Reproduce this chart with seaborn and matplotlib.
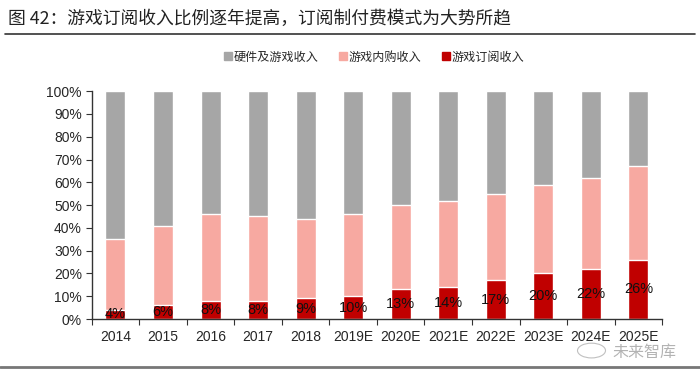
import numpy as np
import pandas as pd
import matplotlib
matplotlib.use("Agg")
import matplotlib.pyplot as plt
import seaborn as sns
from matplotlib.lines import Line2D
from matplotlib.patches import Circle

# data (% share of revenue)
years = ['2014', '2015', '2016', '2017', '2018', '2019E', '2020E',
         '2021E', '2022E', '2023E', '2024E', '2025E']
subs = np.array([4, 6, 8, 8, 9, 10, 13, 14, 17, 20, 22, 26])        # 游戏订阅收入
inapp = np.array([31, 35, 38, 37, 35, 36, 37, 38, 38, 39, 40, 41])  # 游戏内购收入
hardware = np.array([65, 59, 54, 55, 56, 54, 50, 48, 45, 41, 38, 33])  # 硬件及游戏收入
series_names = ['硬件及游戏收入', '游戏内购收入', '游戏订阅收入']
colors = ['#A6A6A6', '#F7A9A1', '#C00000']

sns.set_style("white")
plt.rcParams['font.family'] = ['Liberation Sans', 'Noto Sans CJK SC', 'DejaVu Sans']
cjk = ['Noto Sans CJK SC', 'DejaVu Sans']

df = pd.DataFrame({'year': years, 'subs': subs, 'inapp': inapp, 'hardware': hardware})
df['top_inapp'] = df['subs'] + df['inapp']
df['top_all'] = df['top_inapp'] + df['hardware']

fig = plt.figure(figsize=(7, 3.69), dpi=100)
ax = fig.add_axes([0.131, 0.1355, 0.815, 0.6175])

# layered bars: full stack first, then shorter cumulative stacks on top
for col, c in zip(['top_all', 'top_inapp', 'subs'], colors):
    sns.barplot(data=df, x='year', y=col, color=c, width=0.42,
                saturation=1, ax=ax)

for i, v in enumerate(subs):
    ax.text(i, v / 2, f'{v}%', ha='center', va='center', fontsize=10.5,
            color='#111111')

ax.set_ylim(0, 100)
ax.set_xlim(-0.5, len(years) - 0.5)
ax.set_yticks(range(0, 101, 10))
ax.set_yticklabels([f'{t}%' for t in range(0, 101, 10)], fontsize=10)
ax.set_xlabel('')
ax.set_ylabel('')
ax.tick_params(axis='x', labelsize=10, length=0, pad=8)
ax.tick_params(axis='y', left=True, length=4, width=0.8, color='#333333', pad=3)
for s in ['top', 'right']:
    ax.spines[s].set_visible(False)
for s in ['left', 'bottom']:
    ax.spines[s].set_color('#333333')
    ax.spines[s].set_linewidth(1)
# tick marks between categories on the x axis
ax.set_xticks(np.arange(-0.5, len(years)), minor=True)
ax.tick_params(axis='x', which='minor', bottom=True, length=4, width=0.8,
               color='#333333', direction='out')

handles = [Line2D([], [], marker='s', linestyle='', markersize=6,
                  markerfacecolor=c, markeredgecolor=c) for c in colors]
fig.legend(handles, series_names, loc='center', bbox_to_anchor=(0.534, 0.845),
           ncol=3, frameon=False, handletextpad=0.0,
           columnspacing=1.6, handlelength=0.9,
           prop={'family': cjk, 'size': 8.7})

# title and separator lines
fig.text(0.012, 0.95, '图 42：游戏订阅收入比例逐年提高，订阅制付费模式为大势所趋',
         fontsize=12.8, ha='left', va='center', fontweight='normal',
         family=cjk, color='#222222')
fig.add_artist(Line2D([0.007, 0.993], [0.908, 0.908], color='#333333', lw=1.2))
fig.add_artist(Line2D([0.0, 1.0], [0.006, 0.006], color='#777777', lw=2))

# watermark (kept just below the tick labels so they stay readable)
fig.add_artist(Circle((0.845, 0.05), 0.02, transform=fig.transFigure,
                      fill=False, ec='#B0B0B0', lw=0.8, alpha=0.8))
fig.text(0.92, 0.045, '未来智库', fontsize=11.5, ha='center', va='center',
         color='#A0A0A0', alpha=0.8, family=cjk)

fig.savefig('out.png', dpi=100)
